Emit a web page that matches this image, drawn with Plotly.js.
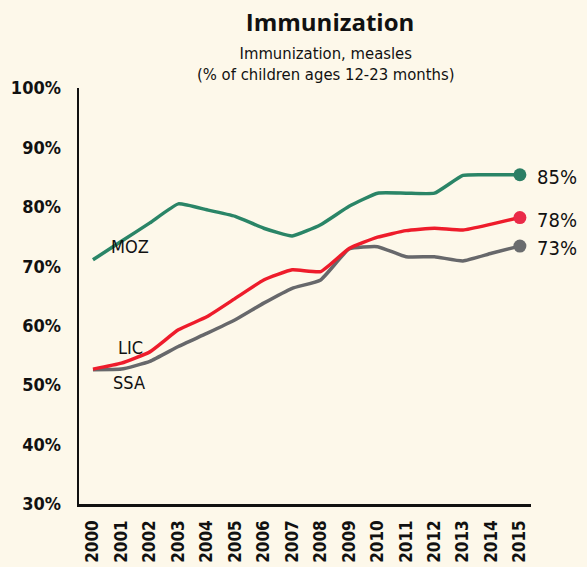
<!DOCTYPE html>
<html>
<head>
<meta charset="utf-8">
<script src="https://cdn.plot.ly/plotly-3.0.1.min.js"></script>
<style>
html,body{margin:0;padding:0;background:#fdf8ea;}
#chart{width:587px;height:567px;}
</style>
</head>
<body>
<div id="chart"></div>
<script>
var years = [2000,2001,2002,2003,2004,2005,2006,2007,2008,2009,2010,2011,2012,2013,2014,2015];
var yearLabels = years.map(String);
var moz = [71.1,74.2,77.3,80.5,79.5,78.4,76.4,75.1,77.0,80.1,82.3,82.3,82.3,85.3,85.4,85.4];
var lic = [52.7,53.7,55.6,59.3,61.5,64.6,67.7,69.4,69.1,73.0,74.9,76.0,76.4,76.1,77.1,78.2];
var ssa = [52.6,52.7,54.0,56.5,58.7,61.0,63.8,66.3,67.7,72.9,73.3,71.6,71.6,70.9,72.2,73.4];
var seriesNames = ["MOZ","LIC","SSA"];
var yTicks = [30,40,50,60,70,80,90,100];
var yTickLabels = yTicks.map(function(v){return v+"%";});

var NARROW = "DejaVu Sans Condensed, Liberation Sans Narrow, sans-serif";
var colors = {MOZ:"#2a8567", LIC:"#ee1c2b", SSA:"#67686b"};
var markerColors = {MOZ:"#2b7e64", LIC:"#ea2a48", SSA:"#6a6c6e"};
var data = {MOZ:moz, LIC:lic, SSA:ssa};

var traces = [];
["SSA","LIC","MOZ"].forEach(function(n){
  traces.push({x:years, y:data[n], type:"scatter", mode:"lines",
    line:{color:colors[n], width:3.5, shape:"spline", smoothing:0.4}, hoverinfo:"skip", showlegend:false});
  var last = data[n].length-1;
  traces.push({x:[years[last]], y:[data[n][last]], type:"scatter", mode:"markers",
    marker:{color:markerColors[n], size:13}, hoverinfo:"skip", showlegend:false});
});

var annotations = [];
seriesNames.forEach(function(n){
  var last = data[n].length-1;
  annotations.push({x:years[last], y:data[n][last], xref:"x", yref:"y",
    text:Math.round(data[n][last])+"%", showarrow:false, xanchor:"left", yanchor:"middle",
    xshift:15, yshift:-2, font:{family:NARROW, size:20, color:"#111"}});
});
var labelPos = {MOZ:[2001.3,73.3], LIC:[2001.33,56.4], SSA:[2001.28,50.4]};
seriesNames.forEach(function(n){
  annotations.push({x:labelPos[n][0], y:labelPos[n][1], xref:"x", yref:"y", text:n,
    showarrow:false, xanchor:"center", yanchor:"middle",
    font:{family:NARROW, size:18, color:"#111"}});
});
annotations.push({x:0.547, y:1.0565, xref:"paper", yref:"paper",
  text:"Immunization, measles<br>(% of children ages 12-23 months)",
  showarrow:false, xanchor:"center", yanchor:"middle",
  font:{family:NARROW, size:16.5, color:"#111"}});

var layout = {
  width:587, height:567,
  paper_bgcolor:"#fdf8ea", plot_bgcolor:"#fdf8ea",
  margin:{l:79, r:56, t:88, b:63, pad:0},
  title:{text:"<b>Immunization</b>", x:326/587, xanchor:"center", xref:"paper",
    y:1-23/567, yanchor:"middle", yref:"container",
    font:{family:"Open Sans, sans-serif", size:24, color:"#111"}},
  xaxis:{range:[1999.51,2015.39], tickmode:"array", tickvals:years, ticktext:yearLabels,
    tickangle:-90, showgrid:false, zeroline:false, showline:true, linecolor:"#111", linewidth:2.5,
    ticks:"", ticklabelstandoff:7, tickfont:{family:NARROW, size:17, color:"#111", weight:"bold"}},
  yaxis:{range:[30,100], tickmode:"array", tickvals:yTicks, ticktext:yTickLabels,
    showgrid:false, zeroline:false, showline:true, linecolor:"#111", linewidth:2.5,
    ticks:"", ticklabelstandoff:12, tickfont:{family:NARROW, size:18, color:"#111", weight:"bold"}},
  annotations:annotations
};
Plotly.newPlot("chart", traces, layout, {staticPlot:true, displayModeBar:false});
</script>
</body>
</html>
